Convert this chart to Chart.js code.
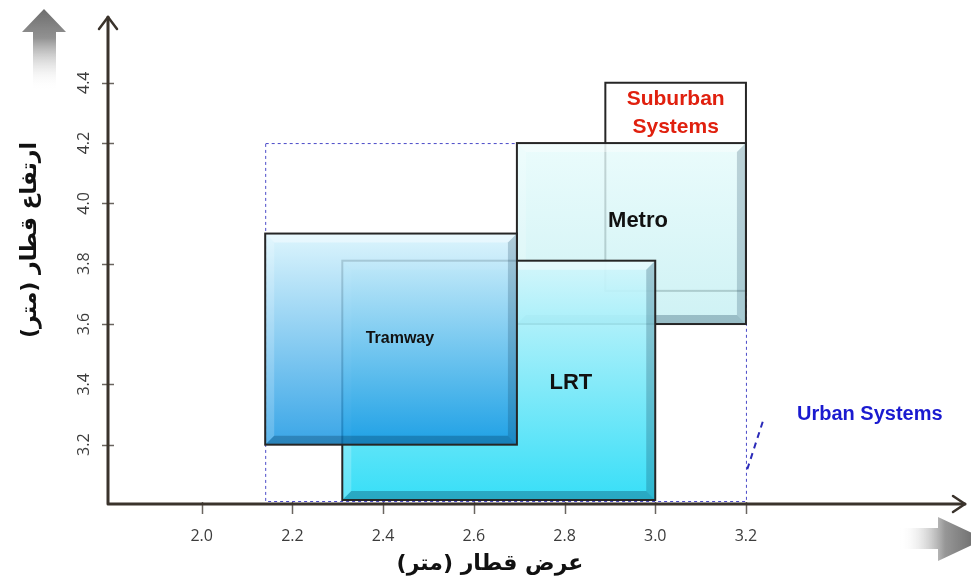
<!DOCTYPE html>
<html>
<head>
<meta charset="utf-8">
<script src="https://cdn.jsdelivr.net/npm/chart.js@4.4.1/dist/chart.umd.min.js"></script>
<style>
  html, body { margin: 0; padding: 0; background: #ffffff; }
  #wrap { width: 971px; height: 585px; }
</style>
</head>
<body>
<div id="wrap"><canvas id="c" width="971" height="585"></canvas></div>
<script>
// Train envelope per system: width range (m) and height range (m)
const systems   = ['Suburban Systems', 'Metro', 'LRT', 'Tramway'];
const widthMin  = [2.89, 2.695, 2.31, 2.14];
const widthMax  = [3.20, 3.20, 3.00, 2.695];
const heightMin = [3.71, 3.60, 3.00, 3.20];
const heightMax = [4.40, 4.20, 3.81, 3.90];

// Overall envelope of urban systems (dashed frame)
const urbanWidth  = [2.14, 3.20];
const urbanHeight = [3.00, 4.20];

// Axis tick labels
const xTicks = ['2.0', '2.2', '2.4', '2.6', '2.8', '3.0', '3.2'];
const yTicks = ['3.2', '3.4', '3.6', '3.8', '4.0', '4.2', '4.4'];

const xTitle = 'عرض قطار (متر)';
const yTitle = 'ارتفاع قطار (متر)';

// Drawing styles for each system box
const boxStyle = {
  'Suburban Systems': { top: '#ffffff', bottom: '#ffffff', alpha: 1, bevel: false },
  'Metro':   { top: '#e6fbfb', bottom: '#c4eff2', alpha: 0.82, bevel: true },
  'LRT':     { top: '#d4f6fb', bottom: '#26dcf7', alpha: 0.92, bevel: true },
  'Tramway': { top: '#d6f3fc', bottom: '#1394e2', alpha: 0.84, bevel: true }
};
const labelStyle = {
  'Suburban Systems': { lines: ['Suburban', 'Systems'], at: [3.045, 4.30], font: 'bold 21px "Liberation Sans", Arial, sans-serif', color: '#e0200e', lh: 28 },
  'Metro':   { lines: ['Metro'],   at: [2.962, 3.941], font: 'bold 22px "Liberation Sans", Arial, sans-serif', color: '#111111' },
  'LRT':     { lines: ['LRT'],     at: [2.814, 3.406], font: 'bold 22px "Liberation Sans", Arial, sans-serif', color: '#111111' },
  'Tramway': { lines: ['Tramway'], at: [2.437, 3.552], font: 'bold 16px "Liberation Sans", Arial, sans-serif', color: '#111111' }
};

const AXIS = '#3a332c';

function drawBox(ctx, x0, y0, x1, y1, st) {
  const w = x1 - x0, h = y1 - y0;
  ctx.save();
  ctx.globalAlpha = st.alpha;
  const g = ctx.createLinearGradient(0, y0, 0, y1);
  g.addColorStop(0, st.top);
  g.addColorStop(1, st.bottom);
  ctx.fillStyle = g;
  ctx.fillRect(x0, y0, w, h);
  if (st.bevel) {
    const b = 9;
    // top highlight
    ctx.fillStyle = 'rgba(255,255,255,0.45)';
    ctx.beginPath();
    ctx.moveTo(x0, y0); ctx.lineTo(x1, y0); ctx.lineTo(x1 - b, y0 + b); ctx.lineTo(x0 + b, y0 + b);
    ctx.closePath(); ctx.fill();
    // left highlight
    ctx.fillStyle = 'rgba(255,255,255,0.22)';
    ctx.beginPath();
    ctx.moveTo(x0, y0); ctx.lineTo(x0 + b, y0 + b); ctx.lineTo(x0 + b, y1 - b); ctx.lineTo(x0, y1);
    ctx.closePath(); ctx.fill();
    // right shade
    ctx.fillStyle = 'rgba(0,40,70,0.24)';
    ctx.beginPath();
    ctx.moveTo(x1, y0); ctx.lineTo(x1, y1); ctx.lineTo(x1 - b, y1 - b); ctx.lineTo(x1 - b, y0 + b);
    ctx.closePath(); ctx.fill();
    // bottom shade
    ctx.fillStyle = 'rgba(0,40,70,0.32)';
    ctx.beginPath();
    ctx.moveTo(x0, y1); ctx.lineTo(x1, y1); ctx.lineTo(x1 - b, y1 - b); ctx.lineTo(x0 + b, y1 - b);
    ctx.closePath(); ctx.fill();
  }
  ctx.globalAlpha = 1;
  ctx.strokeStyle = '#262626';
  ctx.lineWidth = 2;
  ctx.strokeRect(x0, y0, w, h);
  ctx.restore();
}

function fadeArrow(ctx, dir) {
  ctx.save();
  if (dir === 'up') {
    const g = ctx.createLinearGradient(0, 10, 0, 90);
    g.addColorStop(0, 'rgba(110,110,110,1)');
    g.addColorStop(0.35, 'rgba(140,140,140,0.95)');
    g.addColorStop(1, 'rgba(255,255,255,0)');
    ctx.fillStyle = g;
    ctx.beginPath();
    ctx.moveTo(44, 9); ctx.lineTo(66, 32); ctx.lineTo(56, 32); ctx.lineTo(56, 90);
    ctx.lineTo(33, 90); ctx.lineTo(33, 32); ctx.lineTo(22, 32);
    ctx.closePath(); ctx.fill();
  } else {
    const g = ctx.createLinearGradient(975, 0, 900, 0);
    g.addColorStop(0, 'rgba(110,110,110,1)');
    g.addColorStop(0.4, 'rgba(145,145,145,0.95)');
    g.addColorStop(1, 'rgba(255,255,255,0)');
    ctx.fillStyle = g;
    ctx.beginPath();
    ctx.moveTo(985, 539); ctx.lineTo(938, 517); ctx.lineTo(938, 528); ctx.lineTo(900, 528);
    ctx.lineTo(900, 549); ctx.lineTo(938, 549); ctx.lineTo(938, 561);
    ctx.closePath(); ctx.fill();
  }
  ctx.restore();
}

const boxesPlugin = {
  id: 'boxes',
  beforeDatasetsDraw(chart) {
    const { ctx, scales: { x, y } } = chart;
    // dashed urban frame behind the boxes
    ctx.save();
    ctx.strokeStyle = '#4a4ac8';
    ctx.lineWidth = 1;
    ctx.setLineDash([3, 3]);
    const ux0 = x.getPixelForValue(urbanWidth[0]), ux1 = x.getPixelForValue(urbanWidth[1]);
    const uy0 = y.getPixelForValue(urbanHeight[1]), uy1 = y.getPixelForValue(urbanHeight[0]);
    ctx.strokeRect(ux0 + 0.5, uy0 + 0.5, ux1 - ux0, uy1 - uy0 - 4);
    ctx.restore();

    systems.forEach((name, i) => {
      const x0 = x.getPixelForValue(widthMin[i]);
      const x1 = x.getPixelForValue(widthMax[i]);
      const y0 = y.getPixelForValue(heightMax[i]);
      const y1 = y.getPixelForValue(heightMin[i]);
      drawBox(ctx, x0, y0, x1, y1 - (heightMin[i] <= 3.0 ? 5 : 0), boxStyle[name]);
    });

    systems.forEach((name) => {
      const ls = labelStyle[name];
      const px = x.getPixelForValue(ls.at[0]);
      const py = y.getPixelForValue(ls.at[1]);
      ctx.save();
      ctx.font = ls.font;
      ctx.fillStyle = ls.color;
      ctx.textAlign = 'center';
      ctx.textBaseline = 'middle';
      const lh = ls.lh || 0;
      ls.lines.forEach((t, k) => {
        ctx.fillText(t, px, py + (k - (ls.lines.length - 1) / 2) * lh);
      });
      ctx.restore();
    });

    // Urban Systems label with leader line
    ctx.save();
    ctx.font = 'bold 20px "Liberation Sans", Arial, sans-serif';
    ctx.fillStyle = '#1a1ad0';
    ctx.textAlign = 'center';
    ctx.textBaseline = 'middle';
    ctx.fillText('Urban Systems', x.getPixelForValue(3.473), y.getPixelForValue(3.30));
    ctx.strokeStyle = '#2a2ab8';
    ctx.lineWidth = 2;
    ctx.setLineDash([6, 5]);
    ctx.beginPath();
    ctx.moveTo(x.getPixelForValue(3.237), y.getPixelForValue(3.276));
    ctx.lineTo(x.getPixelForValue(3.202), y.getPixelForValue(3.114));
    ctx.stroke();
    ctx.restore();
  },
  afterDraw(chart) {
    const { ctx, chartArea: a, scales: { x, y } } = chart;
    const ox = a.left, oy = a.bottom - 1;

    fadeArrow(ctx, 'up');
    fadeArrow(ctx, 'right');

    ctx.save();
    // tick marks
    ctx.strokeStyle = '#6a6560';
    ctx.lineWidth = 1.5;
    xTicks.forEach(t => {
      const px = Math.round(x.getPixelForValue(parseFloat(t))) + 0.5;
      ctx.beginPath(); ctx.moveTo(px, oy - 2); ctx.lineTo(px, oy + 10); ctx.stroke();
    });
    yTicks.forEach(t => {
      const py = Math.round(y.getPixelForValue(parseFloat(t))) + 0.5;
      ctx.beginPath(); ctx.moveTo(ox - 6, py); ctx.lineTo(ox + 6, py); ctx.stroke();
    });

    // axis lines with open arrowheads
    ctx.strokeStyle = AXIS;
    ctx.lineWidth = 3;
    ctx.lineCap = 'round';
    ctx.lineJoin = 'round';
    ctx.beginPath();
    ctx.moveTo(ox, a.top); ctx.lineTo(ox, oy); ctx.lineTo(a.right, oy);
    ctx.stroke();
    ctx.lineWidth = 2.5;
    ctx.beginPath();
    ctx.moveTo(ox - 9, a.top + 12); ctx.lineTo(ox, a.top); ctx.lineTo(ox + 9, a.top + 12);
    ctx.moveTo(a.right - 12, oy - 8); ctx.lineTo(a.right, oy); ctx.lineTo(a.right - 12, oy + 8);
    ctx.stroke();

    // tick labels
    ctx.fillStyle = '#3c3c3c';
    ctx.font = '16px "Open Sans", sans-serif';
    ctx.textAlign = 'center';
    ctx.textBaseline = 'middle';
    xTicks.forEach(t => {
      ctx.fillText(t, x.getPixelForValue(parseFloat(t)), 536);
    });
    yTicks.forEach(t => {
      ctx.save();
      ctx.translate(84, y.getPixelForValue(parseFloat(t)));
      ctx.rotate(-Math.PI / 2);
      ctx.fillText(t, 0, 0);
      ctx.restore();
    });

    // axis titles
    ctx.fillStyle = '#111111';
    ctx.font = 'bold 22px "DejaVu Sans", sans-serif';
    ctx.direction = 'rtl';
    ctx.fillText(xTitle, 490, 564);
    ctx.save();
    ctx.translate(30, 240);
    ctx.rotate(-Math.PI / 2);
    ctx.fillText(yTitle, 0, 0);
    ctx.restore();
    ctx.restore();
  }
};

new Chart(document.getElementById('c'), {
  type: 'scatter',
  data: {
    datasets: systems.map((name, i) => ({
      label: name,
      data: [
        { x: widthMin[i], y: heightMin[i] },
        { x: widthMax[i], y: heightMax[i] }
      ],
      pointRadius: 0,
      pointHoverRadius: 0
    }))
  },
  options: {
    responsive: false,
    devicePixelRatio: 1,
    animation: false,
    events: [],
    layout: { padding: { left: 108, right: 6, top: 17, bottom: 80 } },
    plugins: { legend: { display: false }, tooltip: { enabled: false } },
    scales: {
      x: { type: 'linear', min: 1.7934, max: 3.683, display: false },
      y: { type: 'linear', min: 3.0, max: 4.618, display: false }
    }
  },
  plugins: [boxesPlugin]
});
</script>
</body>
</html>
